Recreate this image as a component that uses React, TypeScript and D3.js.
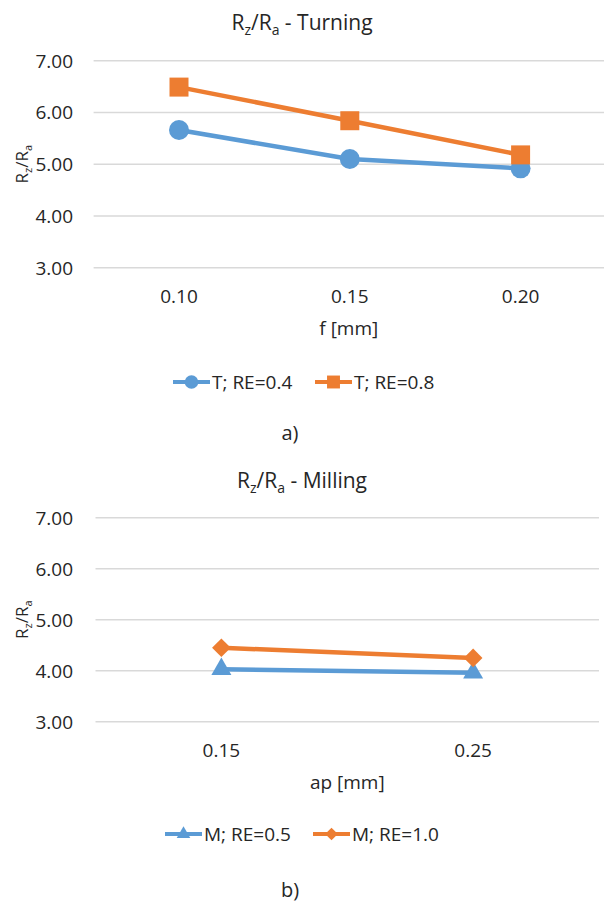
import React from "react";
import * as d3 from "d3";

// ---- data ----
const Y_TICKS = [3, 4, 5, 6, 7];

const TURN_CATEGORIES = ["0.10", "0.15", "0.20"];
const TURN_RE04 = [5.66, 5.1, 4.92];
const TURN_RE08 = [6.49, 5.84, 5.18];

const MILL_CATEGORIES = ["0.15", "0.25"];
const MILL_RE05 = [4.03, 3.96];
const MILL_RE10 = [4.45, 4.25];

const BLUE = "#5B9BD5";
const ORANGE = "#ED7D31";
const TEXT = "#262626";
const GRID = "#D9D9D9";
const FONT = "'Open Sans', 'Noto Sans', sans-serif";

type Shape = "circle" | "square" | "triangle" | "diamond";
interface Series {
  name: string;
  values: number[];
  color: string;
  shape: Shape;
}

function markerPath(shape: Shape, big: boolean): string {
  const k = big ? 1 : 0.68;
  if (shape === "circle") return d3.symbol(d3.symbolCircle, Math.PI * (10 * k) ** 2)()!;
  if (shape === "square") return d3.symbol(d3.symbolSquare, (19 * k) ** 2)()!;
  if (shape === "triangle") return d3.symbol(d3.symbolTriangle, (Math.sqrt(3) / 4) * (20 * k) ** 2)()!;
  return d3.symbol(d3.symbolSquare, (13.2 * k) ** 2)()!;
}

interface ChartProps {
  yTop: number;
  yBottom: number;
  titleY: number;
  title: string;
  xLabel: string;
  panel: string;
  panelY: number;
  legendY: number;
  categories: string[];
  series: Series[];
  plotX0: number;
  plotX1: number;
  gridX1: number;
  legendX: number;
  legendStep: number;
}

function Chart(p: ChartProps) {
  const y = d3.scaleLinear().domain([3, 7]).range([p.yBottom, p.yTop]);
  const x = d3.scaleBand<string>().domain(p.categories).range([p.plotX0, p.plotX1]);
  const cx = (c: string) => (x(c) ?? 0) + x.bandwidth() / 2;
  const line = d3
    .line<number>()
    .x((_, i) => cx(p.categories[i]))
    .y((v) => y(v));
  const plotCenter = (p.plotX0 + p.gridX1) / 2;

  return (
    <g fontFamily={FONT} fill={TEXT}>
      {/* title */}
      <text x={302} y={p.titleY} textAnchor="middle" fontSize={21}>
        <tspan>R</tspan>
        <tspan fontSize={14} dy={5}>z</tspan>
        <tspan dy={-5}>/R</tspan>
        <tspan fontSize={14} dy={5}>a</tspan>
        <tspan dy={-5}>{" - " + p.title}</tspan>
      </text>
      {/* gridlines */}
      {Y_TICKS.map((v) => (
        <line key={"g" + v} x1={p.plotX0} x2={p.gridX1} y1={y(v)} y2={y(v)} stroke={GRID} strokeWidth={1.5} />
      ))}
      {/* y tick labels */}
      {Y_TICKS.map((v) => (
        <text key={"t" + v} x={73} y={y(v)} dy="0.36em" textAnchor="end" fontSize={19}>
          {d3.format(".2f")(v)}
        </text>
      ))}
      {/* y label */}
      <text transform={`translate(28,${y(5)}) rotate(-90)`} textAnchor="middle" fontSize={17}>
        <tspan>R</tspan>
        <tspan fontSize={11} dy={4}>z</tspan>
        <tspan dy={-4}>/R</tspan>
        <tspan fontSize={11} dy={4}>a</tspan>
      </text>
      {/* x tick labels */}
      {p.categories.map((c) => (
        <text key={"x" + c} x={cx(c)} y={y(3) + 35} textAnchor="middle" fontSize={19}>
          {c}
        </text>
      ))}
      {/* x label */}
      <text x={plotCenter} y={y(3) + 67} textAnchor="middle" fontSize={19}>
        {p.xLabel}
      </text>
      {/* series */}
      {p.series.map((s) => (
        <g key={s.name}>
          <path d={line(s.values) ?? ""} fill="none" stroke={s.color} strokeWidth={4.5} strokeLinejoin="round" />
          {s.values.map((v, i) => (
            <path
              key={i}
              d={markerPath(s.shape, true)}
              transform={`translate(${cx(p.categories[i])},${y(v)})${s.shape === "diamond" ? " rotate(45)" : ""}`}
              fill={s.color}
            />
          ))}
        </g>
      ))}
      {/* legend */}
      {p.series.map((s, i) => {
        const lx = p.legendX + i * p.legendStep;
        const ly = p.legendY;
        return (
          <g key={"l" + s.name}>
            <line x1={lx} x2={lx + 37} y1={ly} y2={ly} stroke={s.color} strokeWidth={4} />
            <path
              d={markerPath(s.shape, false)}
              transform={`translate(${lx + 18.5},${ly})${s.shape === "diamond" ? " rotate(45)" : ""}`}
              fill={s.color}
            />
            <text x={lx + 39} y={ly} dy="0.36em" fontSize={19}>
              {s.name}
            </text>
          </g>
        );
      })}
      {/* panel label */}
      <text x={290} y={p.panelY} textAnchor="middle" fontSize={20}>
        {p.panel}
      </text>
    </g>
  );
}

export default function App() {
  const turning: Series[] = [
    { name: "T; RE=0.4", values: TURN_RE04, color: BLUE, shape: "circle" },
    { name: "T; RE=0.8", values: TURN_RE08, color: ORANGE, shape: "square" },
  ];
  const milling: Series[] = [
    { name: "M; RE=0.5", values: MILL_RE05, color: BLUE, shape: "triangle" },
    { name: "M; RE=1.0", values: MILL_RE10, color: ORANGE, shape: "diamond" },
  ];
  return (
    <svg
      width={604}
      height={905}
      style={{ position: "absolute", left: 0, top: 0, background: "#fff" }}
    >
      <rect width={604} height={905} fill="#fff" />
      <Chart
        yTop={60.7}
        yBottom={267.7}
        titleY={30}
        title="Turning"
        xLabel="f [mm]"
        panel="a)"
        panelY={440}
        legendY={382}
        categories={TURN_CATEGORIES}
        series={turning}
        plotX0={93.6}
        plotX1={606}
        gridX1={604}
        legendX={173}
        legendStep={142}
      />
      <Chart
        yTop={517.7}
        yBottom={721.7}
        titleY={488}
        title="Milling"
        xLabel="ap [mm]"
        panel="b)"
        panelY={897}
        legendY={834}
        categories={MILL_CATEGORIES}
        series={milling}
        plotX0={95.5}
        plotX1={599}
        gridX1={599}
        legendX={165}
        legendStep={148}
      />
    </svg>
  );
}
